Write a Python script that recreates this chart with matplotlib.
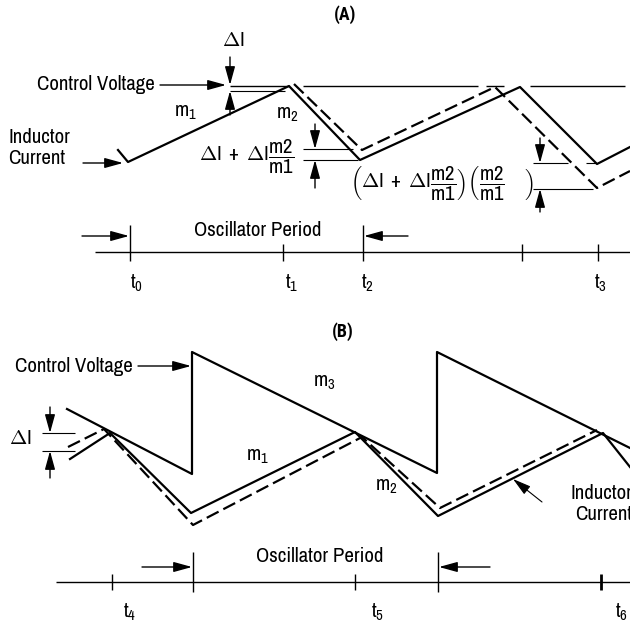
import matplotlib
matplotlib.use('Agg')
import matplotlib.pyplot as plt
from matplotlib import font_manager

names = {f.name for f in font_manager.fontManager.ttflist}
FONT = next((n for n in ['Archivo Narrow', 'Roboto Condensed', 'Liberation Sans Narrow', 'Liberation Sans']
             if n in names), 'DejaVu Sans')
BOLD_FONT = next((n for n in ['Roboto Condensed', 'Fira Sans Condensed', 'Barlow Semi Condensed']
                  if n in names), FONT)
plt.rcParams['font.family'] = [FONT, 'DejaVu Sans']
plt.rcParams['mathtext.fontset'] = 'custom'
plt.rcParams['mathtext.rm'] = FONT
plt.rcParams['mathtext.it'] = FONT
plt.rcParams['mathtext.bf'] = FONT + ':bold'

# ---- panel (A): fixed control level, inductor current and its perturbation (pixel coords, y down)
a_current_x = [118, 128, 289, 360, 520, 597, 630]
a_current_y = [150, 162, 86, 160, 87, 164, 147]
a_perturbed_x = [294, 362, 495, 597, 630]
a_perturbed_y = [84, 150, 87, 188, 171]
a_control_y = 86
a_control_spans = [(230, 289), (303, 478), (486, 504), (530, 625)]
a_axis_y = 252
a_ticks_x = [130, 283, 363, 522, 598]
a_tall_ticks = [130, 363]
a_tick_labels = ['$\\mathrm{t_0}$', '$\\mathrm{t_1}$', '$\\mathrm{t_2}$', '$\\mathrm{t_3}$']
a_label_x = [137, 292, 368, 601]

# ---- panel (B): sawtooth control voltage (slope compensation)
b_control_x = [67, 192, 192, 437, 437, 630]
b_control_y = [409, 474, 352, 473, 352, 448]
b_current_x = [70, 110, 191, 355, 438, 603, 630]
b_current_y = [459, 433, 513, 432, 516, 433, 467]
b_perturbed_x = [68, 104, 193, 362, 440, 597]
b_perturbed_y = [447, 429, 525, 437, 508, 430]
b_axis_y = 582
b_ticks_x = [112, 193, 355, 438, 601]
b_tall_ticks = [193, 438]
b_tick_labels = ['$\\mathrm{t_4}$', '$\\mathrm{t_5}$', '$\\mathrm{t_6}$']
b_label_x = [130, 378, 622]

fig = plt.figure(figsize=(6.3, 6.27), dpi=100)
ax = fig.add_axes([0, 0, 1, 1])
ax.set_xlim(0, 630)
ax.set_ylim(627, 0)
ax.axis('off')

LW = 1.6
THIN = 0.8
FS = 15
DASH = (0, (6, 2.4))


def arrow(tail, tip, lw=1.0):
    ax.annotate('', xy=tip, xytext=tail,
                arrowprops=dict(arrowstyle='-|>,head_length=0.8,head_width=0.22',
                                lw=lw, color='black', shrinkA=0, shrinkB=0,
                                mutation_scale=14))


def hline(y, x0, x1, lw=THIN):
    ax.plot([x0, x1], [y, y], color='black', lw=lw, solid_capstyle='butt')


def vline(x, y0, y1, lw=THIN):
    ax.plot([x, x], [y0, y1], color='black', lw=lw, solid_capstyle='butt')


# ================= (A) =================
ax.text(345, 15, '(A)', fontsize=13, fontweight='bold', family=BOLD_FONT,
        ha='center', va='center')
for x0, x1 in a_control_spans:
    hline(a_control_y, x0, x1, lw=1.0)
ax.plot(a_current_x, a_current_y, color='black', lw=LW)
ax.plot(a_perturbed_x, a_perturbed_y, color='black', lw=LW, linestyle=DASH)

# delta I at the peak
hline(91, 230, 285)
arrow((230, 57), (230, a_control_y - 1))
arrow((230, 115), (230, 91))
ax.text(233, 40, '$\\mathrm{\\Delta I}$', fontsize=FS, ha='center', va='center')

ax.text(155, 85, 'Control Voltage', fontsize=FS, ha='right', va='center')
arrow((160, 85), (226, 85))
ax.text(8, 148, 'Inductor\nCurrent', fontsize=FS, ha='left', va='center', linespacing=1.1)
arrow((83, 163), (123, 163))
ax.text(185, 113, '$\\mathrm{m_1}$', fontsize=FS, ha='center', va='center')
ax.text(287, 115, '$\\mathrm{m_2}$', fontsize=FS, ha='center', va='center')

# first valley error
hline(149, 303, 353)
hline(160, 303, 358)
arrow((315, 124), (315, 149))
arrow((315, 188), (315, 160))
ax.text(247, 157, '$\\mathrm{\\Delta I\\ +\\ \\Delta I}\\dfrac{\\mathrm{m2}}{\\mathrm{m1}}$',
        fontsize=FS, ha='center', va='center')

# second valley error
hline(163, 533, 568)
hline(163, 586, 596)
hline(189, 533, 593)
arrow((540, 138), (540, 163))
arrow((540, 212), (540, 189))
ax.text(442, 184, '$\\left(\\mathrm{\\Delta I\\ +\\ \\Delta I}\\dfrac{\\mathrm{m2}}{\\mathrm{m1}}\\right)'
        '\\left(\\dfrac{\\mathrm{m2}}{\\mathrm{m1}}\\quad\\ \\right)$',
        fontsize=FS, ha='center', va='center')

# oscillator period axis
hline(a_axis_y, 95, 630, lw=1.0)
for x in a_ticks_x:
    if x in a_tall_ticks:
        vline(x, 225, 261, lw=1.0)
    else:
        vline(x, 244, 261, lw=1.0)
arrow((82, 236), (129, 236))
arrow((408, 236), (364, 236))
ax.text(258, 230, 'Oscillator Period', fontsize=FS, ha='center', va='center')
for x, lab in zip(a_label_x, a_tick_labels):
    ax.text(x, 283, lab, fontsize=FS, ha='center', va='center')

# ================= (B) =================
ax.text(343, 332, '(B)', fontsize=13, fontweight='bold', family=BOLD_FONT,
        ha='center', va='center')
ax.plot(b_control_x, b_control_y, color='black', lw=LW)
ax.plot(b_current_x, b_current_y, color='black', lw=LW)
ax.plot(b_perturbed_x, b_perturbed_y, color='black', lw=LW, linestyle=DASH)

hline(433, 42, 75)
hline(451, 42, 75)
arrow((50, 407), (50, 433))
arrow((50, 478), (50, 451))
ax.text(20, 438, '$\\mathrm{\\Delta I}$', fontsize=FS, ha='center', va='center')

ax.text(133, 366, 'Control Voltage', fontsize=FS, ha='right', va='center')
arrow((138, 366), (191, 366))
ax.text(324, 383, '$\\mathrm{m_3}$', fontsize=FS, ha='center', va='center')
ax.text(257, 457, '$\\mathrm{m_1}$', fontsize=FS, ha='center', va='center')
ax.text(386, 486, '$\\mathrm{m_2}$', fontsize=FS, ha='center', va='center')
ax.text(570, 504, 'Inductor\nCurrent', fontsize=FS, ha='left', va='center',
        linespacing=1.1, multialignment='right')
arrow((542, 502), (513, 479), lw=0.8)

hline(b_axis_y, 56, 630, lw=1.0)
for x in b_ticks_x:
    if x in b_tall_ticks:
        vline(x, 552, 592, lw=1.0)
    elif x == 601:
        vline(x, 574, 590, lw=2.0)
    else:
        vline(x, 574, 590, lw=1.0)
arrow((142, 567), (192, 567))
arrow((490, 567), (439, 567))
ax.text(320, 557, 'Oscillator Period', fontsize=FS, ha='center', va='center')
for x, lab in zip(b_label_x, b_tick_labels):
    ax.text(x, 612, lab, fontsize=FS, ha='center', va='center')

fig.savefig('out.png', dpi=100)
